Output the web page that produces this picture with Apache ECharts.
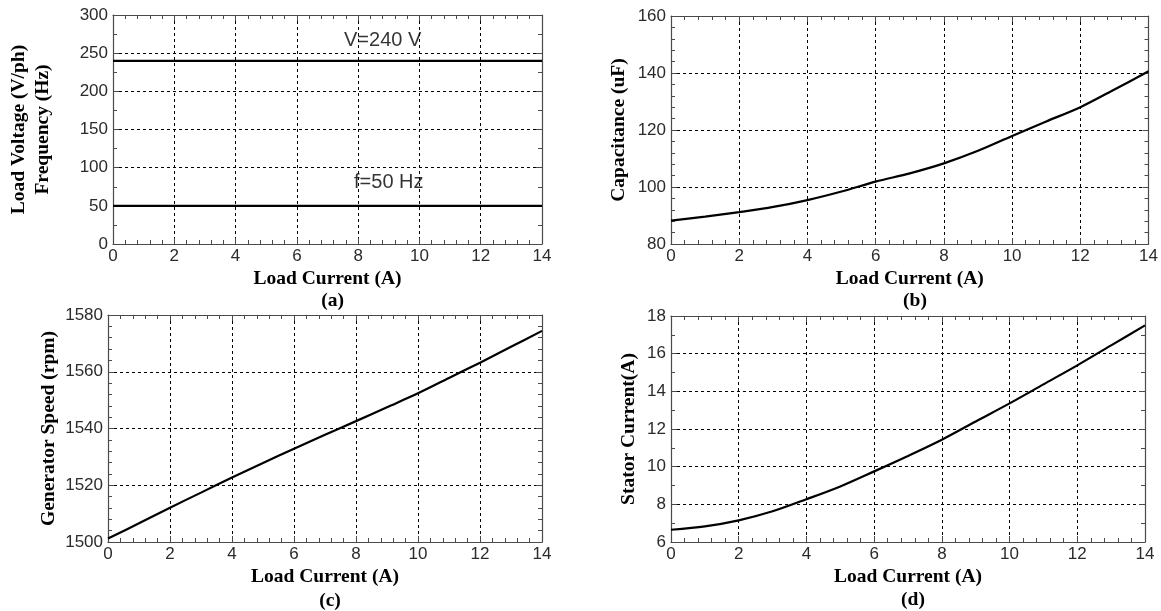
<!DOCTYPE html>
<html>
<head>
<meta charset="utf-8">
<script src="https://cdn.jsdelivr.net/npm/echarts@6/dist/echarts.min.js"></script>
<style>html,body{margin:0;padding:0;background:#fff;}#c{width:1161px;height:611px;}</style>
</head>
<body>
<div id="c"></div>
<script>
// ---- data ----
const loadCurrent = [0,1,2,3,4,5,6,7,8,9,10,11,12,13,14];
const loadVoltage = [240,240,240,240,240,240,240,240,240,240,240,240,240,240,240];
const frequency   = [50,50,50,50,50,50,50,50,50,50,50,50,50,50,50];
const capacitance = [88.2,89.6,91.2,93.0,95.4,98.4,101.9,104.8,108.3,112.7,117.9,123.0,128.0,134.2,140.6];
const genSpeed    = [1501.2,1506.6,1512.1,1517.4,1522.7,1527.8,1532.9,1537.8,1542.6,1547.5,1552.4,1557.8,1563.2,1568.8,1574.4];
const statorCurr  = [6.65,6.83,7.15,7.63,8.27,8.95,9.75,10.57,11.43,12.40,13.36,14.37,15.38,16.44,17.50];
const annotations = [
  {text:'V=240 V', x:8.8, y:267},
  {text:'f=50 Hz', x:9.0, y:80}
];
const panelLabels = ['(a)','(b)','(c)','(d)'];
const xName = 'Load Current (A)';
const yNames = ['Load Voltage (V/ph)\nFrequency (Hz)','Capacitance (uF)','Generator Speed (rpm)','Stator Current(A)'];

// ---- layout ----
const grids = [
  {left:113, top:15,  width:429, height:229},
  {left:671, top:16,  width:478, height:228},
  {left:108, top:315, width:434, height:227},
  {left:671, top:316, width:474, height:226}
];
const panelLabelOffset = [42, 42, 44, 43];
const yCfg = [
  {min:0, max:300, interval:50, minor:2, gap:58},
  {min:80, max:160, interval:20, minor:5, gap:40},
  {min:1500, max:1580, interval:20, minor:5, gap:47},
  {min:6, max:18, interval:2, minor:2, gap:30}
];
const frame = '#4a4a4a';
const labelFont = {fontFamily:'Liberation Sans', fontSize:17, color:'#2b2b2b'};
const nameFont = {fontFamily:'Liberation Serif', fontWeight:'bold', fontSize:19.5, color:'#000'};
const gridLine = {show:true, lineStyle:{color:'#000', type:[3,3], width:1}};
const fmt = v => String(v);

const xAxes = [], yAxes = [], titles = [];
grids.forEach((g, i) => {
  const common = {type:'value', gridIndex:i, min:0, max:14, interval:2,
    axisLine:{show:true, onZero:false, lineStyle:{color:frame, width:1.2}},
    axisTick:{show:true, inside:true, length:6, lineStyle:{color:frame}},
    minorTick:{show:true, splitNumber:5, length:4, lineStyle:{color:frame}}};
  xAxes.push(Object.assign({}, common, {position:'bottom',
    axisLabel:Object.assign({show:true, margin:4, formatter:fmt, showMinLabel:true, showMaxLabel:true}, labelFont),
    splitLine:gridLine,
    name:xName, nameLocation:'middle', nameGap:25, nameTextStyle:nameFont}));
  xAxes.push(Object.assign({}, common, {position:'top', axisLabel:{show:false}, splitLine:{show:false}}));
  const c = yCfg[i];
  const ycommon = {type:'value', gridIndex:i, min:c.min, max:c.max, interval:c.interval,
    axisLine:{show:true, onZero:false, lineStyle:{color:frame, width:1.2}},
    axisTick:{show:true, inside:true, length:6, lineStyle:{color:frame}},
    minorTick:{show:true, splitNumber:c.minor, length:4, lineStyle:{color:frame}}};
  yAxes.push(Object.assign({}, ycommon, {position:'left',
    axisLabel:Object.assign({show:true, margin:5, formatter:fmt, showMinLabel:true, showMaxLabel:true}, labelFont),
    splitLine:gridLine,
    name:yNames[i], nameLocation:'middle', nameGap:c.gap, nameTextStyle:Object.assign({}, nameFont, {lineHeight:24})}));
  yAxes.push(Object.assign({}, ycommon, {position:'right', axisLabel:{show:false}, splitLine:{show:false}}));
  titles.push({text:panelLabels[i], left:g.left + g.width/2, top:g.top + g.height + panelLabelOffset[i], textAlign:'center',
    textStyle:Object.assign({}, nameFont)});
});

function pairs(ys){ return loadCurrent.map((x,k)=>[x, ys[k]]); }
const lineStyle = {color:'#000', width:2.2};
function lineSeries(idx, ys){
  return {type:'line', xAxisIndex:idx*2, yAxisIndex:idx*2, data:pairs(ys), showSymbol:false, smooth:0.3,
    lineStyle:lineStyle, itemStyle:{color:'#000'}, silent:true, animation:false};
}

const series = [
  lineSeries(0, loadVoltage),
  lineSeries(0, frequency),
  lineSeries(1, capacitance),
  lineSeries(2, genSpeed),
  lineSeries(3, statorCurr),
  {type:'scatter', xAxisIndex:0, yAxisIndex:0, symbolSize:0, silent:true, animation:false,
   data:annotations.map(a=>({value:[a.x, a.y], name:a.text})),
   label:{show:true, position:'inside', formatter:p=>p.name, fontFamily:'Liberation Sans', fontSize:20, color:'#000'}}
];

const chart = echarts.init(document.getElementById('c'), null, {renderer:'canvas'});
chart.setOption({
  animation:false,
  backgroundColor:'#fff',
  title:titles,
  grid:grids.map(g=>Object.assign({containLabel:false}, g)),
  xAxis:xAxes,
  yAxis:yAxes,
  series:series
});
</script>
</body>
</html>
